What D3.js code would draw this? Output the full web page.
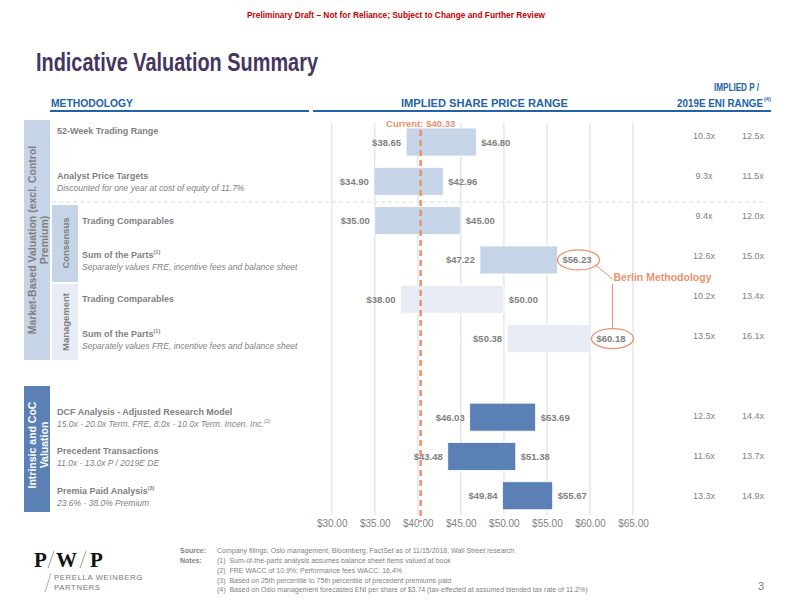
<!DOCTYPE html>
<html lang="en">
<head>
<meta charset="utf-8">
<script src="https://d3js.org/d3.v7.min.js"></script>
<style>
  body { margin: 0; background: #fff; }
  svg { font-family: "Liberation Sans", Arial, sans-serif; }
</style>
</head>
<body>
<svg id="chart" width="792" height="612"></svg>
<script>
// ---- data ----
const rowTitles = ["52-Week Trading Range", "Analyst Price Targets", "Trading Comparables", "Sum of the Parts",
  "Trading Comparables", "Sum of the Parts", "DCF Analysis - Adjusted Research Model",
  "Precedent Transactions", "Premia Paid Analysis"]
const rowNotes = ["", "", "", "(1)", "", "(1)", "", "", "(3)"]
const rowSubtitles = ["", "Discounted for one year at cost of equity of 11.7%", "",
  "Separately values FRE, incentive fees and balance sheet", "",
  "Separately values FRE, incentive fees and balance sheet",
  "15.0x - 20.0x Term. FRE, 8.0x - 10.0x Term. Incen. Inc.", "11.0x - 13.0x P / 2019E DE",
  " 23.6% - 38.0% Premium"]
const rowGroups = ["market", "market", "consensus", "consensus", "management", "management",
  "intrinsic", "intrinsic", "intrinsic"]
const lows = [38.65, 34.90, 35.00, 47.22, 38.00, 50.38, 46.03, 43.48, 49.84]
const highs = [46.80, 42.96, 45.00, 56.23, 50.00, 60.18, 53.69, 51.38, 55.67]
const multLow = ["10.3x", "9.3x", "9.4x", "12.6x", "10.2x", "13.5x", "12.3x", "11.6x", "13.3x"]
const multHigh = ["12.5x", "11.5x", "12.0x", "15.0x", "13.4x", "16.1x", "14.4x", "13.7x", "14.9x"]
const ticks = [30, 35, 40, 45, 50, 55, 60, 65]
const current = 40.33
const berlinRows = [3, 5]
const footnotes = ["(1)  Sum-of-the-parts analysis assumes balance sheet items valued at book",
  "(2)  FRE WACC of 10.9%; Performance fees WACC: 16.4%",
  "(3)  Based on 25th percentile to 75th percentile of precedent premiums paid",
  "(4)  Based on Oslo management forecasted ENI per share of $3.74 (tax-effected at assumed blended tax rate of 11.2%)"]

const gray = "#7f7f7f", orange = "#e9926f", blue = "#2063a6"
const fills = {market: "#c6d4e7", consensus: "#c6d4e7", management: "#e8edf5", intrinsic: "#5b80b6"}

// slot 6 is the empty gap between the two sections
const slots = [0, 1, 2, 3, 4, 5, 7, 8, 9]
const svg = d3.select("#chart")
const x = d3.scaleLinear().domain([30, 65]).range([331.7, 633])
const y = d3.scaleBand().domain(d3.range(10)).range([122.4, 515.4])
const yMult = d3.scaleBand().domain(d3.range(10)).range([116, 516])
const barH = 28
const cy = i => y(slots[i]) + y.bandwidth() / 2

// header
svg.append("text").attr("x", 396).attr("y", 18).attr("text-anchor", "middle")
  .attr("font-size", 9).attr("font-weight", "bold").attr("fill", "#c00000")
  .attr("textLength", 298).attr("lengthAdjust", "spacingAndGlyphs")
  .text("Preliminary Draft \u2013 Not for Reliance; Subject to Change and Further Review")
svg.append("text").attr("x", 36).attr("y", 71).attr("font-size", 25).attr("font-weight", "bold")
  .attr("fill", "#46365f").attr("textLength", 282).attr("lengthAdjust", "spacingAndGlyphs")
  .text("Indicative Valuation Summary")

const hdr = svg.append("g").attr("font-weight", "bold").attr("font-size", 10).attr("fill", blue)
hdr.append("text").attr("x", 51).attr("y", 107).attr("textLength", 82).attr("lengthAdjust", "spacingAndGlyphs").text("METHODOLOGY")
hdr.append("text").attr("x", 401).attr("y", 107).attr("textLength", 167).attr("lengthAdjust", "spacingAndGlyphs").text("IMPLIED SHARE PRICE RANGE")
hdr.append("text").attr("x", 714).attr("y", 91).attr("textLength", 45).attr("lengthAdjust", "spacingAndGlyphs").text("IMPLIED P /")
hdr.append("text").attr("x", 677).attr("y", 107).attr("textLength", 86).attr("lengthAdjust", "spacingAndGlyphs").text("2019E ENI RANGE")
hdr.append("text").attr("x", 764).attr("y", 101).attr("font-size", 5.5).text("(4)")
svg.append("line").attr("x1", 50).attr("x2", 309).attr("y1", 111).attr("y2", 111).attr("stroke", blue).attr("stroke-width", 2)
svg.append("line").attr("x1", 313).attr("x2", 771).attr("y1", 111).attr("y2", 111).attr("stroke", blue).attr("stroke-width", 2)

// left side panels
svg.append("rect").attr("x", 24).attr("y", 120).attr("width", 26).attr("height", 240).attr("fill", "#c6d4e7")
svg.append("rect").attr("x", 52).attr("y", 205).attr("width", 26).attr("height", 77).attr("fill", "#c6d4e7")
svg.append("rect").attr("x", 52).attr("y", 284).attr("width", 26).attr("height", 76).attr("fill", "#e8edf5")
svg.append("rect").attr("x", 24).attr("y", 386).attr("width", 26).attr("height", 126).attr("fill", "#5b80b6")

function vlabel(cx, cyy, lines, fill, size) {
  const t = svg.append("text").attr("transform", `translate(${cx},${cyy}) rotate(-90)`)
    .attr("text-anchor", "middle").attr("font-weight", "bold").attr("font-size", size).attr("fill", fill)
  lines.forEach((l, k) => t.append("tspan").attr("x", 0).attr("y", (k - (lines.length - 1) / 2) * 12 + 4).text(l))
}
vlabel(38, 240, ["Market-Based Valuation (excl. Control", "Premium)"], gray, 10.5)
vlabel(65, 243, ["Consensus"], gray, 9.5)
vlabel(65, 322, ["Management"], gray, 9.5)
vlabel(38, 445, ["Intrinsic and CoC", "Valuation"], "#fff", 10.5)

// dashed separator between market and consensus rows
svg.append("line").attr("x1", 52).attr("x2", 766).attr("y1", 202).attr("y2", 202)
  .attr("stroke", "#cfdbeb").attr("stroke-dasharray", "4,3")

// row labels
rowTitles.forEach((t, i) => {
  const lx = (rowGroups[i] === "consensus" || rowGroups[i] === "management") ? 82 : 57
  const hasSub = rowSubtitles[i] !== ""
  const ty = i === 0 ? cy(i) - 8 : (hasSub ? cy(i) - 2 : cy(i) + 3)
  const tt = svg.append("text").attr("x", lx).attr("y", ty).attr("font-size", 9).attr("font-weight", "bold").attr("fill", gray).text(t)
  if (rowNotes[i]) tt.append("tspan").attr("dy", -4).attr("font-size", 5.5).text(rowNotes[i])
  if (hasSub) {
    const st = svg.append("text").attr("x", lx).attr("y", ty + 12).attr("font-size", 8.5).attr("font-style", "italic").attr("fill", gray).text(rowSubtitles[i])
    if (i === 6) st.append("tspan").attr("dy", -4).attr("font-size", 5.5).text("(2)")
  }
})

// gridlines
svg.append("g").selectAll("line").data(ticks).join("line")
  .attr("x1", d => x(d)).attr("x2", d => x(d)).attr("y1", 123).attr("y2", 515)
  .attr("stroke", "#e6e6e6").attr("stroke-width", 1.5)

// bars
const idx = d3.range(lows.length)
svg.append("g").selectAll("rect").data(idx).join("rect")
  .attr("x", i => x(lows[i])).attr("width", i => x(highs[i]) - x(lows[i]))
  .attr("y", i => cy(i) - barH / 2).attr("height", barH)
  .attr("fill", i => fills[rowGroups[i]]).attr("stroke", "#fff").attr("stroke-width", 0.8)

const lbl = svg.append("g").attr("font-size", 9.5).attr("font-weight", "bold").attr("fill", gray)
lbl.selectAll(".lo").data(idx).join("text").attr("class", "lo")
  .attr("x", i => x(lows[i]) - 5).attr("y", i => cy(i) + 3.5).attr("text-anchor", "end")
  .text(i => "$" + lows[i].toFixed(2))
lbl.selectAll(".hi").data(idx).join("text").attr("class", "hi")
  .attr("x", i => x(highs[i]) + 5).attr("y", i => cy(i) + 3.5)
  .text(i => "$" + highs[i].toFixed(2))

// current price line
svg.append("line").attr("x1", x(current)).attr("x2", x(current)).attr("y1", 130).attr("y2", 522)
  .attr("stroke", orange).attr("stroke-width", 2.5).attr("stroke-dasharray", "6,4")
svg.append("text").attr("x", x(current)).attr("y", 127).attr("text-anchor", "middle")
  .attr("font-size", 9.5).attr("font-weight", "bold").attr("fill", orange).text("Current: $" + current.toFixed(2))

// Berlin methodology callout
berlinRows.forEach(i => {
  svg.append("ellipse").attr("cx", x(highs[i]) + 21).attr("cy", cy(i)).attr("rx", 21).attr("ry", 10)
    .attr("fill", "none").attr("stroke", orange).attr("stroke-width", 1.3)
})
const bx = x(highs[3]) + 42
svg.append("line").attr("x1", bx - 4).attr("y1", cy(3) + 5).attr("x2", bx + 13).attr("y2", cy(3) + 19)
  .attr("stroke", orange).attr("stroke-width", 1)
svg.append("line").attr("x1", x(highs[5]) + 21).attr("x2", x(highs[5]) + 21).attr("y1", cy(3) + 24).attr("y2", cy(5) - 10)
  .attr("stroke", orange).attr("stroke-width", 1)
svg.append("text").attr("x", x(highs[5]) + 22).attr("y", cy(3) + 21).attr("font-size", 10.5)
  .attr("font-weight", "bold").attr("fill", orange).text("Berlin Methodology")

// multiples column
const mult = svg.append("g").attr("font-size", 9).attr("fill", gray).attr("text-anchor", "middle")
mult.selectAll(".ml").data(idx).join("text").attr("class", "ml")
  .attr("x", 704).attr("y", i => yMult(slots[i]) + yMult.bandwidth() / 2 + 3).text(i => multLow[i])
mult.selectAll(".mh").data(idx).join("text").attr("class", "mh")
  .attr("x", 753).attr("y", i => yMult(slots[i]) + yMult.bandwidth() / 2 + 3).text(i => multHigh[i])

// price axis
const axis = svg.append("g").attr("transform", "translate(0,512)")
  .call(d3.axisBottom(x).tickValues(ticks).tickSize(0).tickPadding(8).tickFormat(d => "$" + d.toFixed(2)))
axis.select(".domain").remove()
axis.selectAll("text").attr("font-size", 10).attr("fill", gray).attr("font-family", "Liberation Sans, Arial, sans-serif")

// footnotes
const fn = svg.append("g").attr("font-size", 7).attr("fill", gray)
fn.append("text").attr("x", 180).attr("y", 553).attr("font-weight", "bold").text("Source:")
fn.append("text").attr("x", 217).attr("y", 553).text("Company filings, Oslo management, Bloomberg, FactSet as of 11/15/2018, Wall Street research")
fn.append("text").attr("x", 180).attr("y", 563).attr("font-weight", "bold").text("Notes:")
fn.selectAll(".note").data(footnotes).join("text").attr("class", "note")
  .attr("x", 217).attr("y", (d, i) => 563 + i * 9.8).attr("xml:space", "preserve").text(d => d)
svg.append("text").attr("x", 758).attr("y", 590).attr("font-size", 11).attr("fill", gray).text("3")

// logo
const logo = svg.append("g").attr("font-family", "Liberation Serif, DejaVu Serif, serif")
  .attr("font-size", 21).attr("font-weight", "bold").attr("fill", "#111")
logo.append("text").attr("x", 34).attr("y", 567).text("P")
logo.append("text").attr("x", 56).attr("y", 567).text("W")
logo.append("text").attr("x", 90).attr("y", 567).text("P")
logo.append("line").attr("x1", 48).attr("y1", 568).attr("x2", 54).attr("y2", 551).attr("stroke", "#888").attr("stroke-width", 0.8)
logo.append("line").attr("x1", 80).attr("y1", 568).attr("x2", 86).attr("y2", 551).attr("stroke", "#888").attr("stroke-width", 0.8)
logo.append("line").attr("x1", 45).attr("y1", 592).attr("x2", 51).attr("y2", 573).attr("stroke", "#999").attr("stroke-width", 0.8)
const sub = logo.append("g").attr("font-family", "Liberation Sans, Arial, sans-serif").attr("font-weight", "normal")
  .attr("font-size", 7.8).attr("letter-spacing", 0.6).attr("fill", "#777")
sub.append("text").attr("x", 54).attr("y", 580).text("PERELLA WEINBERG")
sub.append("text").attr("x", 54).attr("y", 590).text("PARTNERS")
</script>
</body>
</html>
